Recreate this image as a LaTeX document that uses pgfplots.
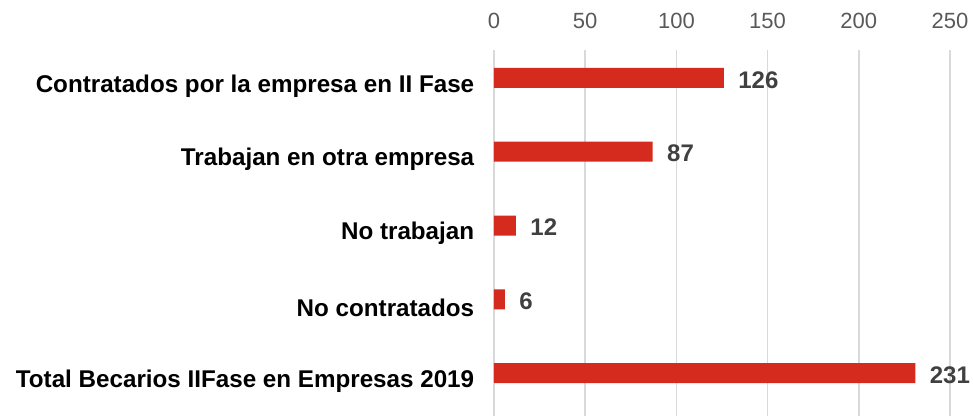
\documentclass[border=0pt]{standalone}
\usepackage{pgfplots}
\pgfplotsset{compat=1.18}
\usepackage{fontspec}
\setmainfont{Liberation Sans}
\definecolor{barred}{RGB}{213,43,30}
\definecolor{gridgray}{RGB}{217,217,217}
\definecolor{valgray}{RGB}{64,64,64}
\definecolor{tickgray}{RGB}{89,89,89}
\begin{document}
\begin{tikzpicture}
\useasboundingbox (-494pt,0) rectangle (479pt,416pt);
\begin{axis}[at={(0,0)}, anchor=south west,
  scale only axis, width=456pt, height=366pt,
  xbar, bar width=20pt,
  xmin=0, xmax=250, ymin=-0.378, ymax=4.58, y dir=reverse,
  axis line style={draw=none}, tick style={draw=none},
  xtick={0,50,100,150,200,250},
  xtick pos=upper, xticklabel pos=upper,
  ytick={0,1,2,3,4},
  yticklabels={Contratados por la empresa en II Fase, Trabajan en otra empresa, No trabajan, No contratados, Total Becarios IIFase en Empresas 2019},
  xmajorgrids, grid style={draw=gridgray, line width=1.5pt},
  /pgf/number format/assume math mode=true,
  xticklabel style={font=\fontsize{22}{26}\selectfont, text=tickgray, yshift=18pt},
  yticklabel style={font=\fontsize{24.2}{28}\selectfont\bfseries, text=black, yshift=-8pt, xshift=-12pt},
  nodes near coords,
  nodes near coords style={font=\fontsize{24}{28}\selectfont\bfseries, text=valgray, anchor=west, xshift=11pt, yshift=-2pt},
  clip=false,
]
\addplot[fill=barred, draw=none] coordinates {(126,0) (87,1) (12,2) (6,3) (231,4)};
\end{axis}
\end{tikzpicture}
\end{document}
